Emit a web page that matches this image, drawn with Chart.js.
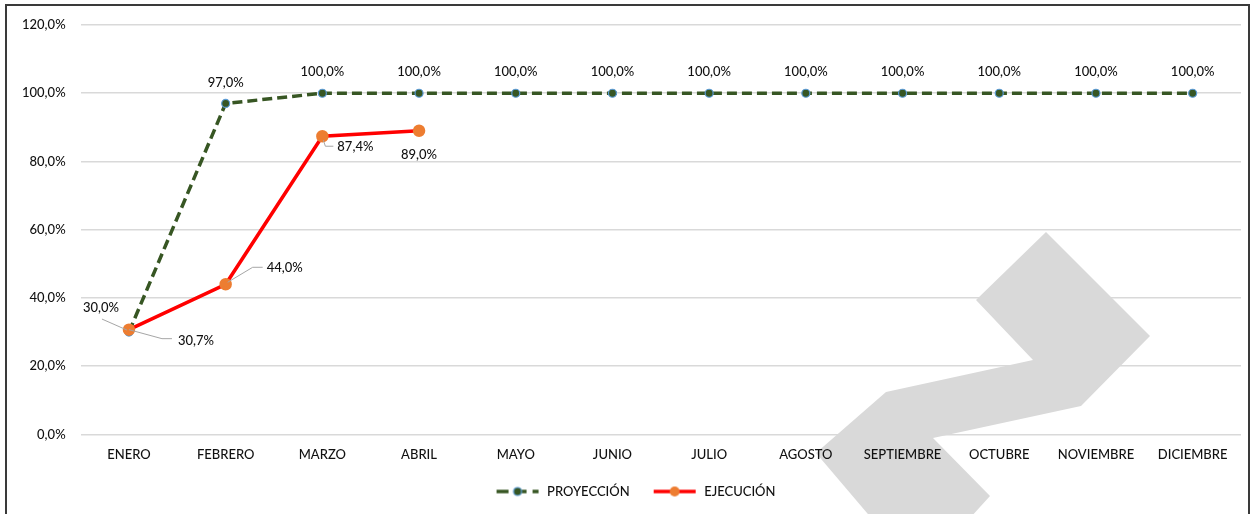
<!DOCTYPE html>
<html>
<head>
<meta charset="utf-8">
<script src="https://cdn.jsdelivr.net/npm/chart.js@4/dist/chart.umd.min.js"></script>
<style>
  html, body { margin: 0; padding: 0; background: #fff; }
  #wrap { width: 1260px; height: 514px; position: relative; }
</style>
</head>
<body>
<div id="wrap"><canvas id="avanceGraph" width="1260" height="514"></canvas></div>
<script>
// datos
var meses = ['ENERO', 'FEBRERO', 'MARZO', 'ABRIL', 'MAYO', 'JUNIO', 'JULIO', 'AGOSTO', 'SEPTIEMBRE', 'OCTUBRE', 'NOVIEMBRE', 'DICIEMBRE'];
var proyeccion = [30.0, 97.0, 100.0, 100.0, 100.0, 100.0, 100.0, 100.0, 100.0, 100.0, 100.0, 100.0];
var ejecucion = [30.7, 44.0, 87.4, 89.0];
var ejeY = [0, 20, 40, 60, 80, 100, 120];

var FONT = 'Lato, "Open Sans", sans-serif';
var TXT = '#111111';
var PESO = 500;

function pct(v) {
    return v.toFixed(1).replace('.', ',') + '%';
}

// where each data label sits relative to its point (px), plus optional leader line
var posProyeccion = [
    { dx: -28, dy: -24, leader: [[-2, -2], [-27, -13]] }
];
var posEjecucion = [
    { dx: 67, dy: 11, leader: [[0, 0], [33, 9], [43, 9]] },
    { dx: 59, dy: -16, leader: [[2, -2], [27, -17], [37, -17]] },
    { dx: 33, dy: 11, leader: [[1, 4], [3, 10], [11, 10]] },
    { dx: 0, dy: 24 }
];

// legend markers (line + dot like excel)
function marcador(color, dash, dotFill, dotStroke, r) {
    var c = document.createElement('canvas');
    c.width = 46; c.height = 14;
    var g = c.getContext('2d');
    g.strokeStyle = color;
    g.lineWidth = 3.5;
    g.setLineDash(dash);
    g.beginPath();
    g.moveTo(2, 7);
    g.lineTo(44, 7);
    g.stroke();
    g.setLineDash([]);
    g.beginPath();
    g.arc(23, 7, r, 0, Math.PI * 2);
    g.fillStyle = dotFill;
    g.fill();
    if (dotStroke) {
        g.lineWidth = 1.2;
        g.strokeStyle = dotStroke;
        g.stroke();
    }
    return c;
}
var mkProy = marcador('#375623', [12, 6], '#375623', '#5b9bd5', 4);
var mkEjec = marcador('#ff0000', [], '#ed7d31', null, 5);
var marcadores = [mkProy, mkEjec];

// decorative grey mark behind the chart + frame
var fondo = {
    id: 'fondo',
    afterLayout: function (chart) {
        // excel puts the legend a bit to the right and up
        chart.legend.left += 11;
        chart.legend.right += 11;
        chart.legend.top -= 5;
        chart.legend.bottom -= 5;
    },
    beforeDraw: function (chart) {
        var c = chart.ctx;
        c.save();
        c.fillStyle = '#ffffff';
        c.fillRect(0, 0, chart.width, chart.height);
        c.fillStyle = '#d9d9d9';
        c.beginPath();
        var pts = [[1046, 232], [1150, 336], [1081, 406], [933, 438], [990, 496], [950, 540],
                   [890, 540], [816, 453], [886, 392], [1033, 360], [976, 300]];
        c.moveTo(pts[0][0], pts[0][1]);
        for (var i = 1; i < pts.length; i++) c.lineTo(pts[i][0], pts[i][1]);
        c.closePath();
        c.fill();
        c.restore();
    },
    afterDraw: function (chart) {
        var c = chart.ctx;
        c.save();
        c.strokeStyle = '#3a3a3a';
        c.lineWidth = 2;
        c.strokeRect(6, 5, 1243, 600);
        c.restore();
    }
};

// data labels
var etiquetas = {
    id: 'etiquetas',
    afterDatasetsDraw: function (chart) {
        var c = chart.ctx;
        var confs = [posProyeccion, posEjecucion];
        c.save();
        c.font = PESO + ' 13px ' + FONT;
        c.textAlign = 'center';
        c.textBaseline = 'middle';
        chart.data.datasets.forEach(function (ds, d) {
            var meta = chart.getDatasetMeta(d);
            meta.data.forEach(function (pt, i) {
                var p = confs[d][i] || { dx: 0, dy: -21 };
                if (p.leader) {
                    c.strokeStyle = '#a6a6a6';
                    c.lineWidth = 1;
                    c.beginPath();
                    p.leader.forEach(function (q, k) {
                        if (k === 0) c.moveTo(pt.x + q[0], pt.y + q[1]);
                        else c.lineTo(pt.x + q[0], pt.y + q[1]);
                    });
                    c.stroke();
                }
                c.fillStyle = TXT;
                c.fillText(pct(ds.data[i]), pt.x + p.dx, pt.y + p.dy);
            });
        });
        c.restore();
    }
};

var ctx = document.getElementById('avanceGraph').getContext('2d');

var chart = new Chart(ctx, {
    type: 'line',
    data: {
        labels: meses,
        datasets: [{
            label: 'PROYECCIÓN',
            data: proyeccion,
            borderColor: '#375623',
            borderWidth: 3.5,
            borderDash: [10, 5],
            backgroundColor: '#375623',
            pointBackgroundColor: '#375623',
            pointBorderColor: '#5b9bd5',
            pointBorderWidth: 1.2,
            pointRadius: 4,
            fill: false,
            tension: 0,
            order: 2
        }, {
            label: 'EJECUCIÓN',
            data: ejecucion,
            borderColor: '#ff0000',
            borderWidth: 3.5,
            backgroundColor: '#ed7d31',
            pointBackgroundColor: '#ed7d31',
            pointBorderColor: '#ed7d31',
            pointRadius: 4.5,
            fill: false,
            tension: 0,
            order: 1
        }]
    },
    options: {
        responsive: false,
        animation: false,
        devicePixelRatio: 1,
        layout: { padding: { left: 7, right: 19, top: 25, bottom: 1 } },
        plugins: {
            tooltip: { enabled: false },
            legend: {
                position: 'bottom',
                labels: {
                    usePointStyle: true,
                    pointStyleWidth: 46,
                    padding: 22,
                    color: TXT,
                    font: { family: FONT, size: 13, weight: PESO },
                    generateLabels: function (ch) {
                        var base = Chart.defaults.plugins.legend.labels.generateLabels(ch);
                        base.forEach(function (it) { it.pointStyle = marcadores[it.datasetIndex]; });
                        return base;
                    },
                    sort: function (a, b) { return a.datasetIndex - b.datasetIndex; }
                }
            }
        },
        scales: {
            x: {
                offset: true,
                grid: { display: false, offset: true },
                border: { display: false },
                ticks: { color: TXT, font: { family: FONT, size: 13, weight: PESO }, padding: 5, maxRotation: 0, autoSkip: false }
            },
            y: {
                min: ejeY[0],
                max: ejeY[ejeY.length - 1],
                afterBuildTicks: function (ax) {
                    ax.ticks = ejeY.map(function (v) { return { value: v }; });
                },
                grid: { color: '#d9d9d9', lineWidth: 1.5, drawTicks: false },
                border: { display: false },
                ticks: {
                    color: TXT,
                    font: { family: FONT, size: 13, weight: PESO },
                    padding: 15,
                    callback: function (v) { return pct(v); }
                }
            }
        }
    },
    plugins: [fondo, etiquetas]
});
</script>
</body>
</html>
